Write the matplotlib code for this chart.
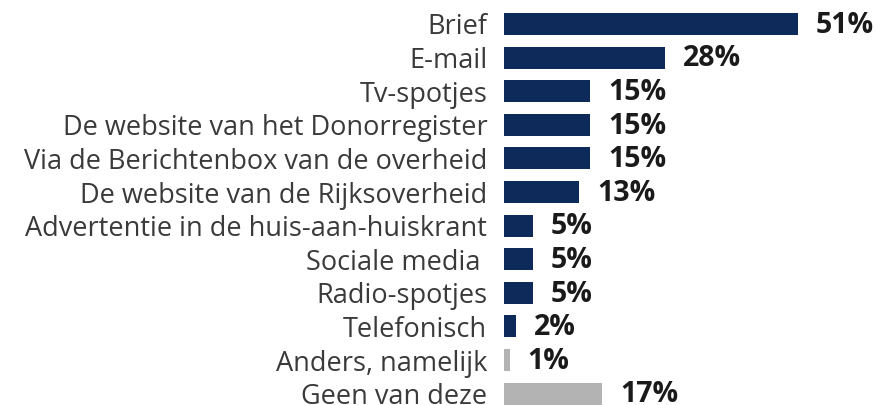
import matplotlib
matplotlib.use("Agg")
import matplotlib.pyplot as plt

# --- Data -------------------------------------------------------------------
categories = [
    "Brief",
    "E-mail",
    "Tv-spotjes",
    "De website van het Donorregister",
    "Via de Berichtenbox van de overheid",
    "De website van de Rijksoverheid",
    "Advertentie in de huis-aan-huiskrant",
    "Sociale media ",
    "Radio-spotjes",
    "Telefonisch",
    "Anders, namelijk",
    "Geen van deze",
]
values = [51, 28, 15, 15, 15, 13, 5, 5, 5, 2, 1, 17]
n_grey = 2  # "Anders" and "Geen van deze" shown in grey

NAVY = "#0d2a5a"
GREY = "#b3b3b3"
colors = [NAVY] * (len(values) - n_grey) + [GREY] * n_grey

plt.rcParams["font.family"] = ["Open Sans", "DejaVu Sans"]

W, H = 876, 405
fig = plt.figure(figsize=(W / 100, H / 100), dpi=100)
left = 504 / W
ax = fig.add_axes([left, 0, 1 - left, 1])

y = list(range(len(values)))
ax.barh(y, values, height=0.66, color=colors)

# pixel geometry: first bar centre ~24 px from top, 33.6 px pitch
pitch = 33.6
ax.set_ylim((H - 24) / pitch, -24 / pitch)
ax.set_xlim(0, (W - 504) / 5.76)

for yi, v in zip(y, values):
    ax.annotate(f"{v}%", (v, yi), xytext=(13, -1), textcoords="offset points",
                va="center", ha="left", fontsize=20.5, fontweight="bold",
                color="#1a1a1a")

ax.set_yticks(y)
ax.set_yticklabels(categories, fontsize=19.5, color="#3a3a3a")
ax.tick_params(axis="y", length=0, pad=12)
ax.set_xticks([])
for s in ax.spines.values():
    s.set_visible(False)

fig.savefig("out.png", dpi=100)
